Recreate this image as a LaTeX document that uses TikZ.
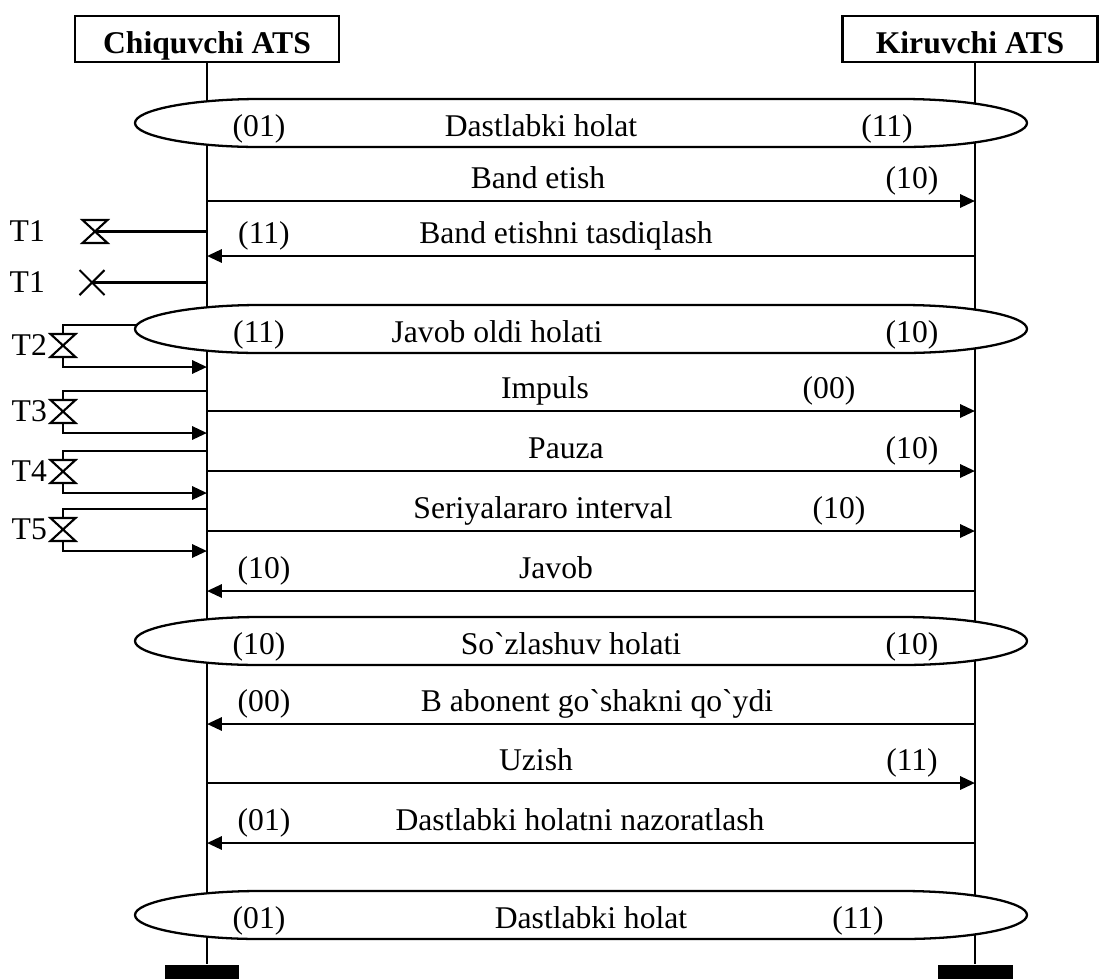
\documentclass[tikz,border=0pt]{standalone}
\usepackage{fontspec}
\setmainfont{Liberation Serif}[Ligatures=TeXOff]
\usetikzlibrary{positioning,arrows.meta,calc}

\tikzset{
  ats/.style={draw, line width=1.3pt, minimum width=5.28cm, minimum height=0.92cm, text height=16pt, text depth=0pt, font=\fontsize{18}{21}\selectfont\bfseries},
  msg/.style={line width=1.5pt, -{Triangle[length=8.5pt,width=7.5pt]}},
  lbl/.style={anchor=base, inner sep=0pt},
  tlab/.style={anchor=east, inner sep=0pt},
  stopblock/.style={fill=black, minimum width=1.5cm, minimum height=0.36cm, inner sep=0pt},
  timer/.style={line width=1.2pt},
  hglass/.pic={\draw[timer] (-12.5,-11.5) -- (12.5,-11.5) -- (-12.5,11.5) -- (12.5,11.5) -- cycle;},
  xmark/.pic={\draw[timer] (-12.5,-12.5) -- (12.5,12.5) (-12.5,12.5) -- (12.5,-12.5);}
}
\newcommand{\statebar}[1]{%
  \draw[line width=1.3pt, fill=white] (260,#1-24) -- (902,#1-24)
    .. controls (971,#1-24) and (1027,#1-13) .. (1027,#1)
    .. controls (1027,#1+13) and (971,#1+24) .. (902,#1+24)
    -- (260,#1+24)
    .. controls (191,#1+24) and (135,#1+13) .. (135,#1)
    .. controls (135,#1-13) and (191,#1-24) .. (260,#1-24) -- cycle;}

\begin{document}
\begin{tikzpicture}[x=0.02cm, y=-0.02cm, line width=1.3pt, font=\fontsize{18}{21}\selectfont]
\useasboundingbox (0,0) rectangle (1099,978);

\node[ats] (chq) at (207,39) {Chiquvchi ATS};
\node[ats, minimum width=5.1cm] (kir) at (970,39) {Kiruvchi ATS};

\node[stopblock] (chqend) at (202,974) {};
\node[stopblock] (kirend) at (975,974) {};

\draw (chq.south) -- (chq.south |- chqend.north);
\draw (kirend.north |- kir.south) -- (kirend.north);

\foreach \c/\lc/\txt/\tx/\rc/\rx [count=\i] in {123/(01)/Dastlabki holat/541/(11)/887,
    329/(11)/Javob oldi holati/497/(10)/912,
    641/(10)/So`zlashuv holati/571/(10)/912,
    915/(01)/Dastlabki holat/591/(11)/858} {
  \statebar{\c}
  \node[lbl] (sl\i) at (259,\c+13) {\lc};
  \node[lbl] (st\i) at (\tx,\c+13) {\txt};
  \node[lbl] (sr\i) at (\rx,\c+13) {\rc};
}

\foreach \y/\txt/\tx/\cd/\cx [count=\i] in {201/Band etish/538/(10)/912,
    411/Impuls/545/(00)/829,
    471/Pauza/566/(10)/912,
    531/Seriyalararo interval/543/(10)/839,
    783/Uzish/536/(11)/912} {
  \coordinate (fl\i) at (207,\y);
  \coordinate (fr\i) at (975,\y);
  \draw[msg] (fl\i) -- (fr\i);
  \node[lbl] (ft\i) at (\tx,\y-13) {\txt};
  \node[lbl] (fc\i) at (\cx,\y-13) {\cd};
}

\foreach \y/\txt/\tx/\cd [count=\i] in {256/Band etishni tasdiqlash/566/(11),
    591/Javob/556/(10),
    724/B abonent go`shakni qo`ydi/597/(00),
    843/Dastlabki holatni nazoratlash/580/(01)} {
  \coordinate (bl\i) at (207,\y);
  \coordinate (br\i) at (975,\y);
  \draw[msg] (br\i) -- (bl\i);
  \node[lbl] (bt\i) at (\tx,\y-13) {\txt};
  \node[lbl] (bc\i) at (264,\y-13) {\cd};
}

\coordinate (t1a) at (95,231.5);
\coordinate (t1b) at (92,282.5);
\pic at (t1a) {hglass};
\pic at (t1b) {xmark};
\draw[timer] (t1a) -- (207,231.5);
\draw[timer] (t1b) -- (207,282.5);
\node[tlab] (tl1a) at (46,231.5) {T1};
\node[tlab] (tl1b) at (46,282.5) {T1};

\foreach \n/\t/\e in {2/325/137, 3/391/207, 4/451/207, 5/509/207} {
  \coordinate (tin\n) at (\e,\t);
  \coordinate (tup\n) at (63,\t);
  \coordinate (thg\n) at (63,\t+20.5);
  \coordinate (tdn\n) at (63,\t+42);
  \coordinate (tout\n) at (207,\t+42);
  \draw[timer] (tin\n) -- (tup\n) -- ($(thg\n)+(0,-12)$);
  \pic at (thg\n) {hglass};
  \draw[msg] ($(thg\n)+(0,12)$) -- (tdn\n) -- (tout\n);
  \node[tlab] (tl\n) at (48,\t+20.5) {T\n};
}

\end{tikzpicture}
\end{document}
